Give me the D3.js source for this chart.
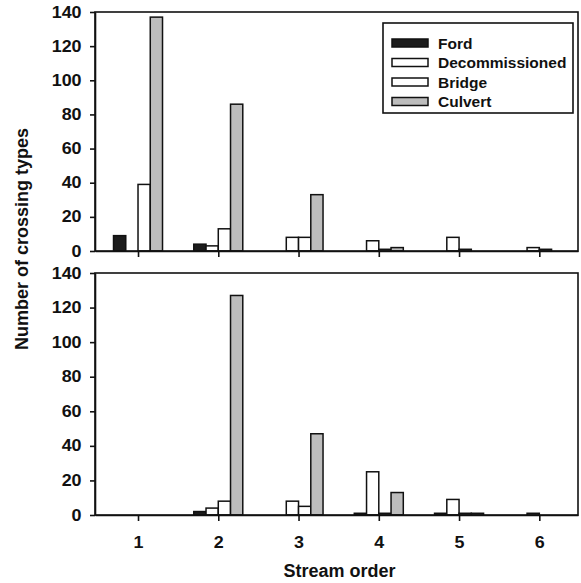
<!DOCTYPE html>
<html>
<head>
<meta charset="utf-8">
<script src="https://cdn.jsdelivr.net/npm/d3@7"></script>
<style>
  body { margin: 0; background: #fff; }
  svg text { font-family: Arial, "Liberation Sans", sans-serif; font-weight: bold; fill: #111; }
  .axis text { font-size: 16px; }
  .axis path, .axis line { stroke: #111; stroke-width: 1.6; }
</style>
</head>
<body>
<div class="chart"></div>
<script>
// Crossing types by stream order, two panels

// DATA-------------------------
const streamOrder = [1, 2, 3, 4, 5, 6];
const crossingTypes = ["Ford", "Decommissioned", "Bridge", "Culvert"];
const yTicks = [0, 20, 40, 60, 80, 100, 120, 140];

// top panel
const fordTop = [9, 4, 0, 0, 0, 0];
const decomTop = [0, 3, 8, 6, 8, 2];
const bridgeTop = [39, 13, 8, 1, 1, 1];
const culvertTop = [137, 86, 33, 2, 0, 0];

// bottom panel
const fordBottom = [0, 2, 0, 1, 1, 0];
const decomBottom = [0, 4, 8, 25, 9, 1];
const bridgeBottom = [0, 8, 5, 1, 1, 0];
const culvertBottom = [0, 127, 47, 13, 1, 0];

const fills = {Ford: "#1c1c1c", Decommissioned: "#fff", Bridge: "#fff", Culvert: "#bdbdbd"};

// CHART INIT-------------------------
const width = 581;
const height = 583;
const left = 95;
const right = 578;

const svg = d3.select('.chart')
    .append('svg')
    .attr("width", width)
    .attr("height", height);

const xScale = d3.scaleLinear()
    .domain([0.464, 6.482])
    .range([left, right]);

// offset of each crossing type inside a stream order group
const typeScale = d3.scaleBand()
    .domain(crossingTypes)
    .range([-24.5, 24.5]);

const panels = [
    {top: 12, bottom: 251, series: [fordTop, decomTop, bridgeTop, culvertTop], labels: false},
    {top: 273, bottom: 515, series: [fordBottom, decomBottom, bridgeBottom, culvertBottom], labels: true}
];

panels.forEach(p => {
    const yScale = d3.scaleLinear()
        .domain([0, 140])
        .range([p.bottom, p.top]);

    const rows = [];
    crossingTypes.forEach((type, i) => {
        streamOrder.forEach((order, j) => {
            rows.push({type: type, order: order, value: p.series[i][j]});
        });
    });

    const g = svg.append('g');

    g.selectAll('rect.bar')
        .data(rows)
        .enter()
        .append('rect')
        .attr('class', 'bar')
        .attr('x', d => xScale(d.order) + typeScale(d.type))
        .attr('y', d => yScale(d.value))
        .attr('width', typeScale.bandwidth())
        .attr('height', d => yScale(0) - yScale(d.value))
        .attr('fill', d => fills[d.type])
        .attr('stroke', '#111')
        .attr('stroke-width', 1.5);

    // frame
    g.append('rect')
        .attr('x', left)
        .attr('y', p.top)
        .attr('width', right - left)
        .attr('height', p.bottom - p.top)
        .attr('fill', 'none')
        .attr('stroke', '#111')
        .attr('stroke-width', 1.6);

    g.append('g')
        .attr('class', 'axis y-axis')
        .attr("transform", `translate(${left},0)`)
        .call(d3.axisLeft(yScale).tickValues(yTicks).tickSize(5).tickPadding(7).tickSizeOuter(0));

    g.append('g')
        .attr('class', 'axis x-axis')
        .attr("transform", `translate(0, ${p.bottom})`)
        .call(d3.axisBottom(xScale)
            .tickValues(streamOrder)
            .tickSize(6)
            .tickPadding(16)
            .tickSizeOuter(0)
            .tickFormat(p.labels ? d3.format("d") : ""));
});

// scanned figure has slightly wide glyphs
svg.selectAll('.axis text')
    .attr('transform', 'scale(1.12,1)');

// LEGEND-------------------------
const legend = svg.append('g')
    .attr("transform", "translate(383,23)");

legend.append('rect')
    .attr('width', 190)
    .attr('height', 90)
    .attr('fill', '#fff')
    .attr('stroke', '#111')
    .attr('stroke-width', 1.6);

const items = legend.selectAll('g.item')
    .data(crossingTypes)
    .enter()
    .append('g')
    .attr('class', 'item')
    .attr("transform", (d, i) => `translate(9, ${20 + i * 19.5})`);

items.append('rect')
    .attr('y', -4)
    .attr('width', 36)
    .attr('height', 8)
    .attr('fill', d => fills[d])
    .attr('stroke', '#111')
    .attr('stroke-width', 1.5);

items.append('text')
    .attr('x', 46)
    .attr('dy', '0.36em')
    .attr('font-size', 15.5)
    .text(d => d);

// AXIS TITLES-------------------------
svg.append('text')
    .attr('x', (left + right) / 2 + 3)
    .attr('y', 577)
    .attr('text-anchor', 'middle')
    .attr('font-size', 18)
    .text('Stream order');

svg.append('text')
    .attr('transform', 'translate(28,239) rotate(-90)')
    .attr('text-anchor', 'middle')
    .attr('font-size', 18)
    .text('Number of crossing types');
</script>
</body>
</html>
